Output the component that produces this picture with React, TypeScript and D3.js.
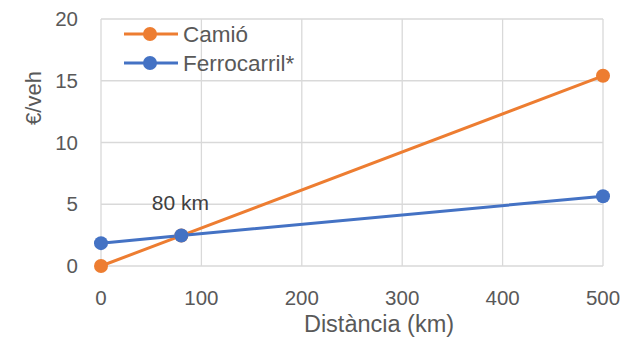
import React from "react";
import * as d3 from "d3";

// Distance (km) at which each series is evaluated
const distances = [0, 80, 500];
// Cost per vehicle (€/veh)
const camioCost = [0, 2.46, 15.4];
const ferrocarrilCost = [1.85, 2.47, 5.65];

const seriesNames = ["Camió", "Ferrocarril*"];
const seriesColors = ["#ED7D31", "#4472C4"];

const xTicks = [0, 100, 200, 300, 400, 500];
const yTicks = [0, 5, 10, 15, 20];

const crossingLabel = "80 km";
const crossingAt = 80;
const xTitle = "Distància (km)";
const yTitle = "€/veh";

const W = 625;
const H = 338;
const margin = { left: 101, right: 22, top: 19, bottom: 72 };
const FONT = "'Liberation Sans', Arial, sans-serif";
const TEXT = "#595959";
const GRID = "#D9D9D9";

export default function App() {
  const x = d3
    .scaleLinear()
    .domain([0, 500])
    .range([margin.left, W - margin.right]);
  const y = d3
    .scaleLinear()
    .domain([0, 20])
    .range([H - margin.bottom, margin.top]);

  const line = d3
    .line<[number, number]>()
    .x((d) => x(d[0]))
    .y((d) => y(d[1]));

  const series = [camioCost, ferrocarrilCost].map((vals, i) => ({
    name: seriesNames[i],
    color: seriesColors[i],
    points: distances.map((d, j) => [d, vals[j]] as [number, number]),
  }));

  const crossingIdx = distances.indexOf(crossingAt);

  return (
    <svg
      width={W}
      height={H}
      style={{ position: "absolute", left: 0, top: 0, background: "#fff" }}
      fontFamily={FONT}
    >
      {/* grid */}
      {xTicks.map((t) => (
        <line
          key={"gx" + t}
          x1={x(t)}
          x2={x(t)}
          y1={y(0)}
          y2={y(20)}
          stroke={GRID}
          strokeWidth={1.3}
        />
      ))}
      {yTicks.map((t) => (
        <line
          key={"gy" + t}
          x1={x(0)}
          x2={x(500)}
          y1={y(t)}
          y2={y(t)}
          stroke={GRID}
          strokeWidth={1.3}
        />
      ))}

      {/* tick labels */}
      {yTicks.map((t) => (
        <text
          key={"ty" + t}
          x={78}
          y={y(t) + 7}
          textAnchor="end"
          fontSize={20.5}
          fill={TEXT}
        >
          {t}
        </text>
      ))}
      {xTicks.map((t) => (
        <text
          key={"tx" + t}
          x={x(t)}
          y={305}
          textAnchor="middle"
          fontSize={20.5}
          fill={TEXT}
        >
          {t}
        </text>
      ))}

      {/* axis titles */}
      <text x={379} y={332} textAnchor="middle" fontSize={23.5} fill={TEXT}>
        {xTitle}
      </text>
      <text
        transform={`translate(41, 98) rotate(-90)`}
        textAnchor="middle"
        fontSize={22}
        fill={TEXT}
      >
        {yTitle}
      </text>

      {/* series lines */}
      {series.map((s) => (
        <path
          key={"l" + s.name}
          d={line(s.points) || ""}
          fill="none"
          stroke={s.color}
          strokeWidth={3}
        />
      ))}
      {/* markers */}
      {series.map((s) =>
        s.points.map((p, j) => (
          <circle
            key={s.name + j}
            cx={x(p[0])}
            cy={y(p[1])}
            r={7}
            fill={s.color}
          />
        ))
      )}

      {/* crossing annotation */}
      <text
        x={x(crossingAt) - 1}
        y={y(ferrocarrilCost[crossingIdx]) - 25}
        textAnchor="middle"
        fontSize={21}
        fill="#404040"
      >
        {crossingLabel}
      </text>

      {/* legend */}
      {series.map((s, i) => {
        const ly = 34 + i * 29;
        return (
          <g key={"lg" + s.name}>
            <line x1={124} x2={178} y1={ly} y2={ly} stroke={s.color} strokeWidth={3} />
            <circle cx={150} cy={ly} r={7} fill={s.color} />
            <text x={183} y={ly + 7.5} fontSize={22.5} fill={TEXT}>
              {s.name}
            </text>
          </g>
        );
      })}
    </svg>
  );
}
